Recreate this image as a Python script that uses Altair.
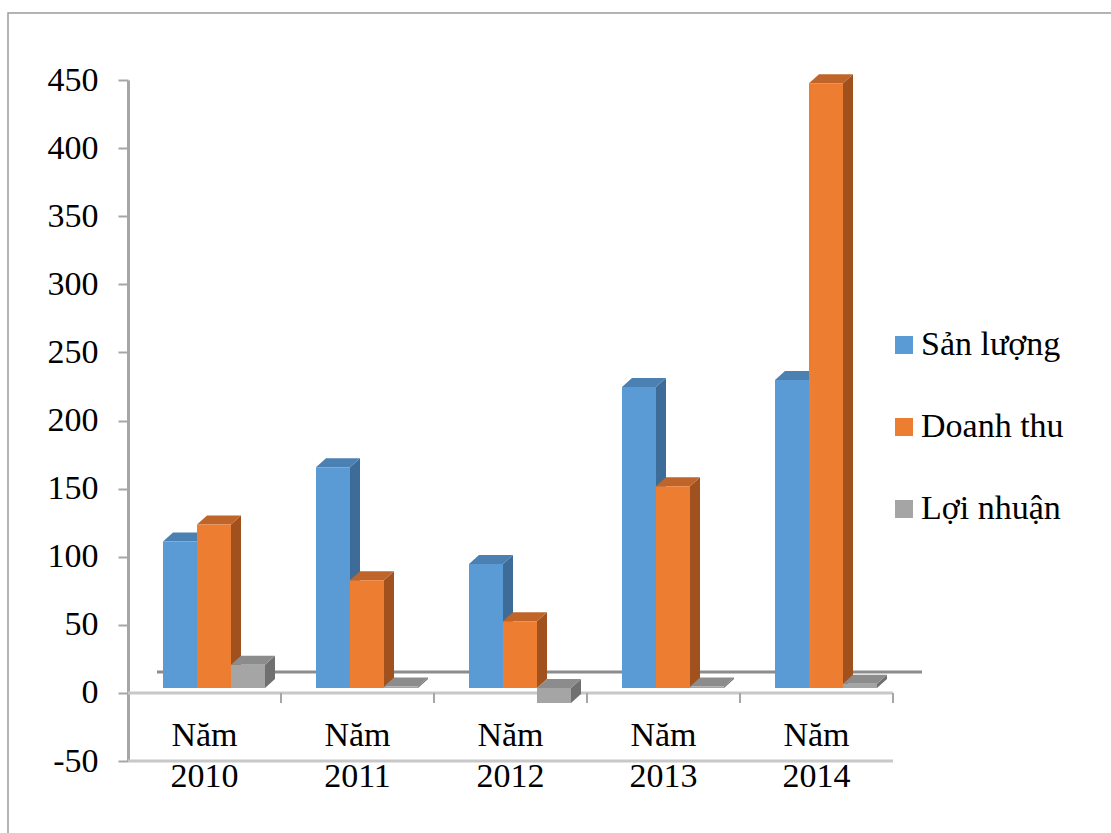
import altair as alt
import pandas as pd

# ---- data -------------------------------------------------------------
YEARS = ["2010", "2011", "2012", "2013", "2014"]
SERIES = ["Sản lượng", "Doanh thu", "Lợi nhuận"]
SAN_LUONG = [107.5, 162, 91, 221, 226]
DOANH_THU = [120, 79, 49, 148, 444]
LOI_NHUAN = [17, 1, -11, 1, 3]
Y_TICKS = [-50, 0, 50, 100, 150, 200, 250, 300, 350, 400, 450]

# ---- styling ----------------------------------------------------------
FONT = "Liberation Serif, Tinos, Times New Roman, Times, DejaVu Serif, serif"
FRONT = ["#5b9bd5", "#ed7d31", "#a5a5a5"]
TOP = ["#4b80b3", "#c0652a", "#8c8c8c"]
SIDE = ["#3e6c98", "#a0511d", "#707070"]

W, H = 765, 681
Y_MIN, Y_MAX = -50, 450
N = len(YEARS)
PX_X = W / N                     # pixels per category
PX_Y = H / (Y_MAX - Y_MIN)       # pixels per value unit

# oblique projection of the 3-D columns, expressed in axis units
BAR_W = 34 / PX_X
GROUP_X0 = 35 / PX_X
DEPTH_DX = 10 / PX_X
DEPTH_DY = 9 / PX_Y
LIFT = 5 / PX_Y                  # columns stand a little behind the floor edge
BACK_DX = 29 / PX_X              # back edge of the floor
BACK_DY = 21 / PX_Y
TICK_LEN = 10 / PX_Y

values = [SAN_LUONG, DOANH_THU, LOI_NHUAN]

front_rows, side_rows, top_rows = [], [], []
for i, year in enumerate(YEARS):
    for k, name in enumerate(SERIES):
        v = values[k][i]
        bid = f"{year}-{k}"
        x0 = i + GROUP_X0 + k * BAR_W
        x1 = x0 + BAR_W
        lo, hi = min(LIFT, LIFT + v), max(LIFT, LIFT + v)
        front_rows.append(dict(id=bid, series=name, x0=x0, x1=x1, lo=lo, hi=hi))
        side_rows.append(dict(id=bid, series=name, x=x1, lo=lo, hi=hi))
        side_rows.append(dict(id=bid, series=name, x=x1 + DEPTH_DX,
                              lo=lo + DEPTH_DY, hi=hi + DEPTH_DY))
        top_rows.append(dict(id=bid, series=name, y=hi, xl=x0, xr=x1))
        top_rows.append(dict(id=bid, series=name, y=hi + DEPTH_DY,
                             xl=x0 + DEPTH_DX, xr=x1 + DEPTH_DX))

front_df = pd.DataFrame(front_rows)
side_df = pd.DataFrame(side_rows)
top_df = pd.DataFrame(top_rows)
label_df = pd.DataFrame({"label": [f"Năm\n{y}" for y in YEARS],
                         "xc": [i + 0.5 for i in range(N)]})

# floor lines: back edge at zero, front edge at zero, front edge at the minimum
floor_back = pd.DataFrame({"xa": [BACK_DX], "xb": [N + BACK_DX], "y": [BACK_DY]})
floor_front = pd.DataFrame({"xa": [0, 0], "xb": [N, N], "y": [0, Y_MIN]})
cat_ticks_df = pd.DataFrame({"x": list(range(1, N + 1)), "ya": [0] * N,
                             "yb": [-TICK_LEN] * N})
# page frame: open on the right and at the bottom
frame_df = pd.DataFrame({"xa": [-120 / PX_X], "xb": [1100 / PX_X],
                         "ya": [Y_MAX + 67 / PX_Y], "yb": [Y_MIN - 200 / PX_Y]})

XS = alt.Scale(domain=[0, N], nice=False, zero=False)
YS = alt.Scale(domain=[Y_MIN, Y_MAX], nice=False, zero=False)
Y_AXIS = alt.Axis(
    values=Y_TICKS, title=None, grid=False, tickSize=10, tickWidth=2,
    tickColor="#a6a6a6", domainColor="#a6a6a6", domainWidth=3,
    labelExpr="'' + datum.value",
    labelFont=FONT, labelFontSize=34, labelColor="black", labelPadding=20)


def xq(field):
    return alt.X(field, scale=XS, axis=None)


def yq(field):
    return alt.Y(field, scale=YS, axis=Y_AXIS)


frame = alt.Chart(frame_df).mark_rect(fillOpacity=0, stroke="#9c9c9c", strokeWidth=1.5).encode(
    x=xq("xa:Q"), x2="xb:Q", y=yq("ya:Q"), y2="yb:Q")

back_line = alt.Chart(floor_back).mark_rule(color="#8c8c8c", strokeWidth=3).encode(
    x=xq("xa:Q"), x2="xb:Q", y=yq("y:Q"))

front_lines = alt.Chart(floor_front).mark_rule(color="#c8c8c8", strokeWidth=3).encode(
    x=xq("xa:Q"), x2="xb:Q", y=yq("y:Q"))

cat_ticks = alt.Chart(cat_ticks_df).mark_rule(color="#a6a6a6", strokeWidth=2).encode(
    x=xq("x:Q"), y=yq("ya:Q"), y2="yb:Q")

# ---- 3-D columns --------------------------------------------------------
sides = alt.Chart(side_df).mark_area(opacity=1).encode(
    x=xq("x:Q"), y=yq("lo:Q"), y2="hi:Q",
    detail="id:N",
    color=alt.Color("series:N", scale=alt.Scale(domain=SERIES, range=SIDE), legend=None),
)

tops = alt.Chart(top_df).mark_area(orient="horizontal", opacity=1).encode(
    y=yq("y:Q"), x=xq("xl:Q"), x2="xr:Q",
    detail="id:N",
    color=alt.Color("series:N", scale=alt.Scale(domain=SERIES, range=TOP), legend=None),
)

fronts = alt.Chart(front_df).mark_rect().encode(
    x=xq("x0:Q"), x2="x1:Q", y=yq("lo:Q"), y2="hi:Q",
    color=alt.Color("series:N", scale=alt.Scale(domain=SERIES, range=FRONT),
                    legend=alt.Legend(
                        title=None, orient="none", legendX=759, legendY=248,
                        symbolType="square", symbolSize=324, symbolStrokeWidth=0,
                        labelFont=FONT, labelFontSize=34, labelColor="black",
                        labelLimit=300, labelOffset=0, rowPadding=48, padding=0)),
)

labels = alt.Chart(label_df).mark_text(
    font=FONT, fontSize=34, color="black", align="center", baseline="alphabetic",
    lineBreak="\n", lineHeight=41).encode(
    x=xq("xc:Q"), y=alt.value(666), text="label:N")

chart = alt.layer(
    frame, back_line, front_lines, cat_ticks, sides, tops, fronts, labels
).resolve_scale(color="independent").properties(
    width=W, height=H,
    autosize=alt.AutoSizeParams(type="none"),
    padding={"left": 128, "top": 80, "right": 1111 - 128 - W, "bottom": 833 - 80 - H},
    background="white",
).configure(font=FONT).configure_view(strokeWidth=0)

chart.save("out.html", embed_options={"renderer": "svg", "actions": False})
